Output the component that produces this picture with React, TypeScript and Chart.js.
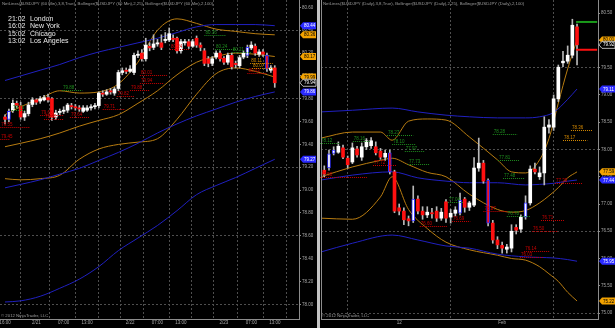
import React, { useEffect, useRef } from "react";
import { Chart, registerables } from "chart.js";

Chart.register(...registerables);

const FONT = "'Liberation Sans', 'DejaVu Sans', Arial, sans-serif";
const TEXT_GREY = "#a8a8a8";
const GRID = "#4e4e4e";
const AXIS = "#8c8c8c";
const ORANGE = "#b87c10";
const BLUE = "#2020c0";
const NET_COLORS: Record<string, string> = { r: "#c80000", g: "#1e8c1e", o: "#d68a00" };

// ================= LEFT PANEL : $USDJPY (60 Min) =================
const leftTitle =
  "NetLines($USDJPY (60 Min),3,8,True), Bollinger($USDJPY (60 Min),2,25), Bollinger($USDJPY (60 Min),2,100)";

const leftOpen = [
  79.64, 79.62, 79.70, 79.76, 79.74, 79.64, 79.67, 79.75, 79.79, 79.78,
  79.79, 79.81, 79.80, 79.64, 79.68, 79.69, 79.70, 79.74, 79.73, 79.72,
  79.69, 79.70, 79.72, 79.73, 79.74, 79.85, 79.84, 79.87, 79.85, 79.89,
  80.03, 80.05, 80.04, 80.03, 80.18, 80.20, 80.15, 80.26, 80.25, 80.28,
  80.29, 80.31, 80.315, 80.33, 80.33, 80.22, 80.29, 80.30, 80.26, 80.33,
  80.27, 80.22, 80.15, 80.11, 80.165, 80.20, 80.155, 80.12, 80.18, 80.11,
  80.09, 80.165, 80.18, 80.245, 80.26, 80.19, 80.21, 80.18, 80.05, 80.07,
];
const leftHigh = [
  79.66, 79.71, 79.79, 79.78, 79.77, 79.69, 79.77, 79.81, 79.80, 79.82,
  79.83, 79.84, 79.81, 79.70, 79.71, 79.73, 79.76, 79.76, 79.75, 79.74,
  79.74, 79.74, 79.75, 79.76, 79.86, 79.87, 79.88, 79.89, 79.90, 80.05,
  80.07, 80.07, 80.09, 80.20, 80.22, 80.23, 80.33, 80.29, 80.36, 80.32,
  80.36, 80.38, 80.42, 80.36, 80.34, 80.32, 80.32, 80.32, 80.32, 80.35,
  80.29, 80.24, 80.17, 80.17, 80.22, 80.22, 80.17, 80.20, 80.20, 80.13,
  80.18, 80.22, 80.27, 80.30, 80.28, 80.23, 80.23, 80.20, 80.09, 80.09,
];
const leftLow = [
  79.58, 79.60, 79.68, 79.72, 79.62, 79.61, 79.65, 79.73, 79.75, 79.76,
  79.78, 79.77, 79.61, 79.62, 79.66, 79.67, 79.68, 79.71, 79.70, 79.69,
  79.68, 79.69, 79.70, 79.71, 79.72, 79.82, 79.83, 79.84, 79.83, 79.87,
  80.01, 80.02, 80.03, 80.01, 80.16, 80.13, 80.13, 80.22, 80.23, 80.26,
  80.23, 80.29, 80.30, 80.30, 80.20, 80.20, 80.27, 80.24, 80.25, 80.25,
  80.22, 80.09, 80.08, 80.09, 80.15, 80.13, 80.10, 80.10, 80.06, 80.07,
  80.07, 80.15, 80.16, 80.23, 80.18, 80.17, 80.17, 80.04, 80.03, 79.90,
];
const leftClose = [
  79.62, 79.69, 79.76, 79.74, 79.64, 79.67, 79.745, 79.79, 79.77, 79.80,
  79.81, 79.79, 79.64, 79.675, 79.69, 79.70, 79.745, 79.73, 79.72, 79.71,
  79.72, 79.72, 79.73, 79.74, 79.85, 79.84, 79.86, 79.86, 79.885, 80.03,
  80.045, 80.04, 80.06, 80.18, 80.19, 80.15, 80.27, 80.245, 80.28, 80.29,
  80.25, 80.32, 80.37, 80.32, 80.22, 80.30, 80.30, 80.26, 80.30, 80.27,
  80.25, 80.11, 80.11, 80.15, 80.20, 80.15, 80.12, 80.18, 80.08, 80.10,
  80.16, 80.20, 80.25, 80.27, 80.20, 80.21, 80.19, 80.06, 80.07, 79.94,
];
const leftBlueOutlined = [1, 62, 67];

const leftXTickIdx = [0, 8, 15, 21, 32, 39, 45, 56, 63, 69];
const leftXTickLabels = ["16:00", "2/21", "07:00", "13:00", "2/22", "07:00", "13:00", "2/23", "07:00", "13:00"];
const leftSessionIdx = [27, 50.5];
const leftYTicks = [78.0, 78.2, 78.4, 78.6, 78.8, 79.0, 79.2, 79.4, 79.6, 79.8, 80.0, 80.2, 80.4, 80.6];
const leftYGrid = [78.0, 78.6, 79.2, 79.8, 80.4];

const leftBandX = [0, 4, 9, 14, 19, 24, 29, 34, 39, 44, 49, 54, 59, 64, 69];
const leftOrangeUpper = [79.66, 79.73, 79.80, 79.87, 79.85, 79.86, 79.93, 80.12, 80.40, 80.50, 80.46, 80.41, 80.39, 80.37, 80.36];
const leftOrangeMid = [79.38, 79.41, 79.45, 79.50, 79.56, 79.61, 79.66, 79.76, 79.87, 80.01, 80.12, 80.17, 80.20, 80.19, 80.17];
const leftOrangeLower = [79.10, 79.09, 79.10, 79.13, 79.27, 79.36, 79.40, 79.42, 79.45, 79.62, 79.84, 80.02, 80.07, 80.04, 79.99];
const leftBlueUpper = [79.96, 80.00, 80.05, 80.10, 80.16, 80.21, 80.25, 80.29, 80.33, 80.38, 80.43, 80.45, 80.45, 80.45, 80.44];
const leftBlueMid = [79.02, 79.05, 79.09, 79.14, 79.19, 79.26, 79.33, 79.41, 79.50, 79.58, 79.65, 79.71, 79.77, 79.82, 79.86];
const leftBlueLower = [78.02, 78.03, 78.07, 78.14, 78.22, 78.33, 78.47, 78.58, 78.69, 78.82, 78.96, 79.04, 79.11, 79.19, 79.27];

const leftBadges: [number, string][] = [
  [80.44, "b"], [80.36, "o"], [80.17, "o"], [79.99, "o"], [79.94, "w"], [79.86, "b"], [79.27, "b"],
];
const leftNetLines: [number, number, number, string][] = [
  [34.5, 41.4, 80.01, "r"], [34.5, 40.7, 79.94, "r"], [32, 37, 79.88, "r"], [28.6, 33.2, 79.82, "r"],
  [25, 30.7, 79.71, "r"], [42.2, 47.3, 80.24, "r"], [62, 67, 80.03, "r"], [9, 15, 79.66, "r"],
  [10, 15, 79.62, "r"], [16.6, 21.7, 79.64, "r"], [-1.2, 6.4, 79.55, "r"], [-1.2, 1.3, 79.45, "r"],
  [51, 56.5, 80.36, "g"], [53.7, 59.3, 80.24, "g"], [58, 63, 80.21, "g"], [14.6, 19.8, 79.88, "g"],
  [1.8, 5.4, 79.70, "g"], [62.7, 68.5, 80.11, "o"], [63.2, 68.8, 80.07, "o"],
];
const sessionTimes = ["21:02", "16:02", "15:02", "13:02"];
const sessionCities = ["London", "New York", "Chicago", "Los Angeles"];

// ================= RIGHT PANEL : $USDJPY (Daily) =================
const rightTitle =
  "NetLines($USDJPY (Daily),3,8,True), Bollinger($USDJPY (Daily),2,25), Bollinger($USDJPY (Daily),2,100)";

const rightOpen = [
  77.62, 77.66, 77.93, 77.95, 78.03, 77.84, 77.77, 78.01, 77.86, 78.05,
  78.07, 78.05, 77.97, 77.86, 77.94, 77.59, 76.93, 76.87, 76.73, 76.69,
  77.09, 76.87, 76.80, 76.84, 76.87, 76.74, 77.04, 76.76, 76.83, 76.83,
  77.09, 76.94, 76.98, 77.66, 77.75, 77.44, 76.65, 76.34, 76.24, 76.17,
  76.19, 76.57, 76.54, 76.76, 77.02, 77.64, 77.50, 77.57, 78.41, 78.41,
  78.93, 79.59, 79.62, 79.73, 80.25,
];
const rightHigh = [
  77.70, 77.99, 78.05, 78.14, 78.08, 77.88, 78.12, 78.06, 78.12, 78.20,
  78.22, 78.14, 78.02, 77.99, 77.99, 77.62, 77.00, 76.93, 76.78, 77.33,
  77.15, 76.95, 76.95, 76.92, 76.95, 76.92, 77.08, 76.90, 76.95, 77.20,
  77.12, 77.05, 77.85, 78.21, 77.80, 77.46, 76.70, 76.40, 76.30, 76.26,
  76.62, 76.62, 76.80, 77.15, 77.70, 77.75, 77.68, 78.60, 78.55, 79.00,
  79.55, 79.80, 79.90, 80.39, 80.30,
];
const rightLow = [
  77.50, 77.62, 77.90, 77.93, 77.83, 77.66, 77.74, 77.86, 77.80, 78.00,
  78.02, 77.90, 77.82, 77.80, 77.55, 76.84, 76.80, 76.62, 76.60, 76.66,
  76.82, 76.72, 76.75, 76.74, 76.68, 76.70, 76.66, 76.65, 76.78, 76.80,
  76.85, 76.88, 76.95, 77.60, 77.38, 76.60, 76.28, 76.18, 76.10, 76.10,
  76.12, 76.45, 76.48, 76.72, 76.98, 77.55, 77.45, 77.35, 78.30, 78.35,
  78.88, 79.52, 79.58, 79.68, 79.55,
];
const rightClose = [
  77.55, 77.92, 77.99, 78.06, 77.86, 77.72, 78.03, 77.90, 78.05, 78.16,
  78.16, 77.94, 77.86, 77.93, 77.59, 76.87, 76.87, 76.71, 76.69, 77.09,
  76.87, 76.80, 76.85, 76.82, 76.74, 76.85, 76.74, 76.83, 76.89, 77.07,
  76.94, 77.02, 77.66, 77.75, 77.42, 76.65, 76.34, 76.25, 76.19, 76.21,
  76.50, 76.52, 76.76, 77.02, 77.64, 77.59, 77.57, 78.41, 78.45, 78.93,
  79.51, 79.62, 79.73, 80.28, 79.92,
];
const rightBlueOutlined = [1, 2, 14, 19, 29, 35, 43];

const rightXTickIdx = [16, 38];
const rightXTickLabels = ["12", "Feb"];
const rightYTicks = [75.0, 75.5, 76.0, 76.5, 77.0, 77.5, 78.0, 78.5, 79.0, 79.5, 80.0, 80.5];
const rightYGrid = [75.0, 76.5, 78.0, 79.5];

const rightOrangeX = [-0.7, 6, 12, 14.5, 18, 22, 26, 31, 37, 40, 43, 46, 48, 50, 52, 54];
const rightOrangeUpper = [78.21, 78.32, 78.32, 78.17, 78.52, 78.56, 78.54, 78.23, 77.81, 77.59, 77.57, 77.81, 78.20, 78.85, 79.48, 80.01];
const rightOrangeMid = [77.50, 77.68, 77.80, 77.84, 77.72, 77.58, 77.50, 77.18, 76.90, 76.85, 76.88, 77.02, 77.15, 77.30, 77.48, 77.59];
const rightOrangeLower = [76.74, 76.72, 77.13, 77.50, 76.90, 76.55, 76.30, 76.16, 76.06, 76.00, 75.97, 75.85, 75.72, 75.58, 75.38, 75.22];
const rightBlueX = [-0.7, 6, 14.5, 20, 26, 31, 37, 43, 46, 49, 52, 54];
const rightBlueUpper = [78.69, 78.72, 78.76, 78.69, 78.63, 78.60, 78.58, 78.58, 78.60, 78.68, 78.92, 79.11];
const rightBlueMid = [77.44, 77.53, 77.59, 77.48, 77.42, 77.39, 77.39, 77.35, 77.36, 77.38, 77.42, 77.44];
const rightBlueLower = [76.12, 76.28, 76.43, 76.34, 76.23, 76.19, 76.08, 76.03, 76.02, 76.01, 75.98, 75.95];

const rightLevelValues = [80.34, 79.83];
const rightLevelColors = ["#1a9a1a", "#ff1010"];
const rightLevelSpan = [53.8, 58.3];

const rightBadges: [number, string][] = [
  [80.01, "o"], [79.92, "w"], [79.11, "b"], [77.59, "o"], [77.44, "b"], [75.95, "b"], [75.22, "o"],
];
const rightNetLines: [number, number, number, string][] = [
  [-0.9, 3.4, 78.12, "g"], [6.1, 9.8, 78.16, "g"], [13.4, 19, 78.27, "g"], [14.5, 19.5, 78.10, "g"],
  [17.2, 21.5, 77.97, "g"], [17.9, 22.6, 77.73, "g"], [26.4, 29.8, 77.04, "g"], [36, 41.2, 78.28, "g"],
  [37.1, 41.8, 77.81, "g"], [38.2, 42.9, 77.48, "g"], [39, 44, 76.78, "g"],
  [-0.9, 9.1, 77.50, "r"], [10.4, 15.5, 77.72, "r"], [20.4, 26.2, 76.60, "r"], [27.3, 31.2, 76.69, "r"],
  [34, 39.1, 76.87, "r"], [46.3, 51.2, 76.71, "r"], [44.4, 50, 76.50, "r"], [42.7, 48.1, 76.14, "r"],
  [41.8, 46.7, 76.03, "r"], [49.3, 55.1, 77.39, "r"],
  [52.7, 57.4, 78.36, "o"], [51, 56.2, 78.17, "o"],
];

// ================= chart building =================
interface Band { x: number[]; y: number[]; color: string }
interface PanelSpec {
  title: string;
  open: number[]; high: number[]; low: number[]; close: number[];
  blue: number[];
  xMin: number; xMax: number; yMin: number; yMax: number;
  xTickIdx: number[]; xTickLabels: string[]; xGrid: number[];
  yTicks: number[]; yGrid: number[];
  bands: Band[];
  levels: { value: number; color: string }[];
  levelSpan: number[];
  badges: [number, string][];
  netLines: [number, number, number, string][];
  axisWidth: number;
  padLeft: number;
  sessions: boolean;
  leftBorder: boolean;
}

function makeOverlay(p: PanelSpec) {
  return {
    id: "overlay",
    afterDatasetsDraw(chart: any) {
      const { ctx } = chart;
      const xs = chart.scales.x;
      const ys = chart.scales.y;
      ctx.save();
      ctx.font = `4.5px ${FONT}`;
      ctx.textAlign = "left";
      ctx.textBaseline = "alphabetic";
      for (const [a, b, v, c] of p.netLines) {
        const x0 = xs.getPixelForValue(a);
        const x1 = xs.getPixelForValue(b);
        const y = Math.round(ys.getPixelForValue(v)) + 0.5;
        ctx.strokeStyle = NET_COLORS[c];
        ctx.fillStyle = NET_COLORS[c];
        ctx.lineWidth = 1;
        ctx.setLineDash([1, 1]);
        ctx.beginPath();
        ctx.moveTo(x0, y);
        ctx.lineTo(x1, y);
        ctx.stroke();
        ctx.fillText(v.toFixed(2), x0 + 1, y - 1.5);
      }
      ctx.restore();
    },
    afterDraw(chart: any) {
      const { ctx, chartArea } = chart;
      const ys = chart.scales.y;
      ctx.save();
      ctx.setLineDash([]);
      if (p.leftBorder) {
        ctx.strokeStyle = AXIS;
        ctx.lineWidth = 1;
        ctx.beginPath();
        ctx.moveTo(chartArea.left + 0.5, 0);
        ctx.lineTo(chartArea.left + 0.5, chartArea.bottom);
        ctx.stroke();
      }
      ctx.font = `4.3px ${FONT}`;
      ctx.fillStyle = "#9c9c9c";
      ctx.textAlign = "left";
      ctx.textBaseline = "middle";
      ctx.fillText(p.title, chartArea.left + 2, 4);
      ctx.fillText("\u00A9 2012 NinjaTrader, LLC", chartArea.left + 1, 316);
      if (p.sessions) {
        ctx.font = `7px ${FONT}`;
        ctx.fillStyle = "#e8e8e8";
        sessionTimes.forEach((t, k) => {
          const y = 19 + k * 7.4;
          ctx.fillText(t, 8, y);
          ctx.fillText(sessionCities[k], 30, y);
        });
      }
      for (const [v, k] of p.badges) {
        const x = chartArea.right + 1;
        const y = ys.getPixelForValue(v);
        const w = 16;
        const h = 7;
        ctx.beginPath();
        ctx.moveTo(x, y);
        ctx.lineTo(x + 3, y - h / 2);
        ctx.lineTo(x + w, y - h / 2);
        ctx.lineTo(x + w, y + h / 2);
        ctx.lineTo(x + 3, y + h / 2);
        ctx.closePath();
        ctx.fillStyle = k === "b" ? "#2a2aff" : k === "o" ? "#f2a200" : "#000000";
        ctx.fill();
        if (k === "w") {
          ctx.strokeStyle = "#e0e0e0";
          ctx.lineWidth = 0.8;
          ctx.stroke();
        }
        ctx.fillStyle = k === "o" ? "#000" : "#fff";
        ctx.font = `4.5px ${FONT}`;
        ctx.textBaseline = "middle";
        ctx.fillText(v.toFixed(2), x + 4, y + 0.3);
      }
      ctx.restore();
    },
  };
}

function buildConfig(p: PanelSpec): any {
  const idx = p.open.map((_, i) => i);
  const datasets: any[] = [];
  p.bands.forEach((b) =>
    datasets.push({
      type: "line",
      data: b.x.map((x, k) => ({ x, y: b.y[k] })),
      borderColor: b.color,
      borderWidth: 1,
      pointRadius: 0,
      cubicInterpolationMode: "monotone",
      fill: false,
      order: 4,
    })
  );
  datasets.push({
    type: "bar",
    data: idx.map((i) => ({ x: i, y: [p.low[i], p.high[i]] })),
    backgroundColor: "#b8b8b8",
    barThickness: 1,
    grouped: false,
    minBarLength: 1,
    order: 3,
  });
  datasets.push({
    type: "bar",
    data: idx.map((i) => ({ x: i, y: [p.open[i], p.close[i]] })),
    backgroundColor: idx.map((i) => (p.close[i] >= p.open[i] ? "#ffffff" : "#ff1010")),
    borderColor: "#3030ff",
    borderWidth: idx.map((i) => (p.blue.includes(i) ? 1 : 0)),
    borderSkipped: false,
    barThickness: 3,
    grouped: false,
    minBarLength: 1,
    order: 2,
  });
  p.levels.forEach((l) =>
    datasets.push({
      type: "line",
      data: p.levelSpan.map((x) => ({ x, y: l.value })),
      borderColor: l.color,
      borderWidth: 2,
      pointRadius: 0,
      order: 1,
    })
  );

  const tickFont = { family: FONT, size: 4.5 };
  return {
    type: "bar",
    data: { datasets },
    plugins: [makeOverlay(p)],
    options: {
      responsive: false,
      animation: false,
      devicePixelRatio: 1,
      events: [],
      layout: { padding: { left: p.padLeft, right: 0, top: 0, bottom: 0 } },
      plugins: { legend: { display: false }, tooltip: { enabled: false } },
      scales: {
        x: {
          type: "linear",
          min: p.xMin,
          max: p.xMax,
          offset: false,
          afterBuildTicks: (s: any) => {
            s.ticks = p.xGrid.map((v) => ({ value: v }));
          },
          afterFit: (s: any) => {
            s.height = 9;
            s.paddingLeft = 0;
            s.paddingRight = 0;
          },
          ticks: {
            autoSkip: false,
            maxRotation: 0,
            minRotation: 0,
            padding: 1,
            color: TEXT_GREY,
            font: tickFont,
            callback: (v: number) => {
              const k = p.xTickIdx.indexOf(v);
              return k >= 0 ? p.xTickLabels[k] : "";
            },
          },
          grid: { color: GRID, drawTicks: false },
          border: { display: true, color: AXIS, dash: [2, 2] },
        },
        y: {
          type: "linear",
          position: "right",
          min: p.yMin,
          max: p.yMax,
          afterBuildTicks: (s: any) => {
            s.ticks = p.yTicks.map((v) => ({ value: v }));
          },
          afterFit: (s: any) => {
            s.width = p.axisWidth;
            s.paddingTop = 0;
            s.paddingBottom = 0;
          },
          ticks: {
            padding: 1,
            color: TEXT_GREY,
            font: tickFont,
            callback: (v: number) => Number(v).toFixed(2),
          },
          grid: {
            color: (c: any) =>
              c.tick && p.yGrid.some((g) => Math.abs(g - c.tick.value) < 1e-6) ? GRID : "rgba(0,0,0,0)",
            tickColor: AXIS,
            tickLength: 2,
          },
          border: { display: true, color: AXIS, dash: [2, 2] },
        },
      },
    },
  };
}

const leftSpec: PanelSpec = {
  title: leftTitle,
  open: leftOpen, high: leftHigh, low: leftLow, close: leftClose,
  blue: leftBlueOutlined,
  xMin: -1.28, xMax: 75.2, yMin: 77.871, yMax: 80.665,
  xTickIdx: leftXTickIdx, xTickLabels: leftXTickLabels,
  xGrid: [...leftXTickIdx, ...leftSessionIdx].sort((a, b) => a - b),
  yTicks: leftYTicks, yGrid: leftYGrid,
  bands: [
    { x: leftBandX, y: leftBlueUpper, color: BLUE },
    { x: leftBandX, y: leftBlueMid, color: BLUE },
    { x: leftBandX, y: leftBlueLower, color: BLUE },
    { x: leftBandX, y: leftOrangeUpper, color: ORANGE },
    { x: leftBandX, y: leftOrangeMid, color: ORANGE },
    { x: leftBandX, y: leftOrangeLower, color: ORANGE },
  ],
  levels: [],
  levelSpan: [],
  badges: leftBadges,
  netLines: leftNetLines,
  axisWidth: 18,
  padLeft: 0,
  sessions: true,
  leftBorder: false,
};

const rightSpec: PanelSpec = {
  title: rightTitle,
  open: rightOpen, high: rightHigh, low: rightLow, close: rightClose,
  blue: rightBlueOutlined,
  xMin: -0.705, xMax: 58.48, yMin: 74.89, yMax: 80.743,
  xTickIdx: rightXTickIdx, xTickLabels: rightXTickLabels, xGrid: rightXTickIdx,
  yTicks: rightYTicks, yGrid: rightYGrid,
  bands: [
    { x: rightBlueX, y: rightBlueUpper, color: BLUE },
    { x: rightBlueX, y: rightBlueMid, color: BLUE },
    { x: rightBlueX, y: rightBlueLower, color: BLUE },
    { x: rightOrangeX, y: rightOrangeUpper, color: ORANGE },
    { x: rightOrangeX, y: rightOrangeMid, color: ORANGE },
    { x: rightOrangeX, y: rightOrangeLower, color: ORANGE },
  ],
  levels: rightLevelValues.map((v, k) => ({ value: v, color: rightLevelColors[k] })),
  levelSpan: rightLevelSpan,
  badges: rightBadges,
  netLines: rightNetLines,
  axisWidth: 17,
  padLeft: 1,
  sessions: false,
  leftBorder: true,
};

export default function App() {
  const leftRef = useRef<HTMLCanvasElement>(null);
  const rightRef = useRef<HTMLCanvasElement>(null);
  useEffect(() => {
    const l = new Chart(leftRef.current as HTMLCanvasElement, buildConfig(leftSpec));
    const r = new Chart(rightRef.current as HTMLCanvasElement, buildConfig(rightSpec));
    return () => {
      l.destroy();
      r.destroy();
    };
  }, []);
  return (
    <div
      style={{
        position: "fixed",
        left: 0,
        top: 0,
        width: 615,
        height: 328,
        background: "#000",
        overflow: "hidden",
      }}
    >
      <canvas ref={leftRef} width={317} height={328} style={{ position: "absolute", left: 0, top: 0 }} />
      <div style={{ position: "absolute", left: 317, top: 0, width: 3, height: 328, background: "#c4c4c4" }} />
      <canvas ref={rightRef} width={295} height={328} style={{ position: "absolute", left: 320, top: 0 }} />
    </div>
  );
}
